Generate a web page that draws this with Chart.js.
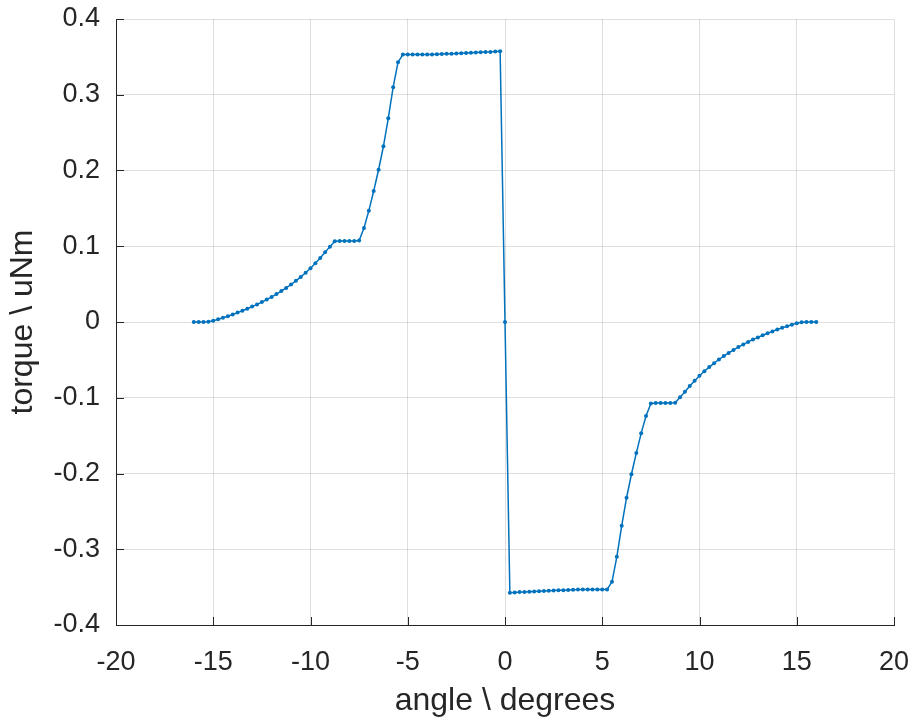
<!DOCTYPE html>
<html>
<head>
<meta charset="utf-8">
<script src="https://cdn.jsdelivr.net/npm/chart.js@4/dist/chart.umd.min.js"></script>
<style>
    html, body { margin: 0; padding: 0; background: #ffffff; }
    .chart-wrap { position: relative; width: 917px; height: 720px; }
</style>
</head>
<body>
<div class="chart-wrap">
    <canvas id="torque-chart" width="917" height="720"></canvas>
</div>
<script>
'use strict';

// sampled angles (degrees)

const angles = [
    -16, -15.75, -15.5, -15.25, -15, -14.75, -14.5, -14.25, -14, -13.75, -13.5, -13.25, -13,
    -12.75, -12.5, -12.25, -12, -11.75, -11.5, -11.25, -11, -10.75, -10.5, -10.25, -10,
    -9.75, -9.5, -9.25, -9, -8.75, -8.5, -8.25, -8, -7.75, -7.5, -7.25, -7, -6.75, -6.5,
    -6.25, -6, -5.75, -5.5, -5.25, -5, -4.75, -4.5, -4.25, -4, -3.75, -3.5, -3.25, -3,
    -2.75, -2.5, -2.25, -2, -1.75, -1.5, -1.25, -1, -0.75, -0.5, -0.25,
    0,
    0.25, 0.5, 0.75, 1, 1.25, 1.5, 1.75, 2, 2.25, 2.5, 2.75, 3, 3.25, 3.5, 3.75, 4, 4.25,
    4.5, 4.75, 5, 5.25, 5.5, 5.75, 6, 6.25, 6.5, 6.75, 7, 7.25, 7.5, 7.75, 8, 8.25, 8.5,
    8.75, 9, 9.25, 9.5, 9.75, 10, 10.25, 10.5, 10.75, 11, 11.25, 11.5, 11.75, 12, 12.25,
    12.5, 12.75, 13, 13.25, 13.5, 13.75, 14, 14.25, 14.5, 14.75, 15, 15.25, 15.5, 15.75, 16
]

// torque (uNm)

const torque = [
    0, 0, 0, 0.0003, 0.0017, 0.0035, 0.0055, 0.0077, 0.0100, 0.0124, 0.0149, 0.0175, 0.0203,
    0.0232, 0.0263, 0.0296, 0.0331, 0.0368, 0.0408, 0.0450, 0.0495, 0.0543, 0.0595, 0.0650, 0.0710,
    0.0775, 0.0845, 0.0920, 0.0995, 0.1065,
    0.1070, 0.1070, 0.1070, 0.1070, 0.1075,
    0.1240, 0.1470, 0.1730, 0.2010, 0.2320, 0.2690, 0.3100, 0.3430, 0.3530,
    0.3530, 0.3530, 0.3530, 0.3531, 0.3532, 0.3533, 0.3535, 0.3537, 0.3540, 0.3542,
    0.3545, 0.3548, 0.3551, 0.3554, 0.3557, 0.3560, 0.3563, 0.3566, 0.3570, 0.3575,
    0,
    -0.3575, -0.3570, -0.3566, -0.3563, -0.3560, -0.3557, -0.3554, -0.3551, -0.3548, -0.3545,
    -0.3542, -0.3540, -0.3537, -0.3535, -0.3533, -0.3532, -0.3531, -0.3530, -0.3530, -0.3530,
    -0.3530, -0.3430, -0.3100, -0.2690, -0.2320, -0.2010, -0.1730, -0.1470, -0.1240,
    -0.1075, -0.1070, -0.1070, -0.1070, -0.1070,
    -0.1065, -0.0995, -0.0920, -0.0845, -0.0775,
    -0.0710, -0.0650, -0.0595, -0.0543, -0.0495, -0.0450, -0.0408, -0.0368, -0.0331, -0.0296,
    -0.0263, -0.0232, -0.0203, -0.0175, -0.0149, -0.0124, -0.0100, -0.0077, -0.0055, -0.0035,
    -0.0017, -0.0003, 0, 0, 0
]

// axis ticks

const xTicks = [-20, -15, -10, -5, 0, 5, 10, 15, 20]
const yTicks = [-0.4, -0.3, -0.2, -0.1, 0, 0.1, 0.2, 0.3, 0.4]

const xLabel = 'angle \\ degrees'
const yLabel = 'torque \\ uNm'

const lineColor = '#0072bd'
const axisColor = '#262626'
const gridColor = 'rgba(38, 38, 38, 0.15)'
const fontFamily = '"Liberation Sans", Arial, Helvetica, sans-serif'

const chartCanvas = document.getElementById('torque-chart')

// build x/y pairs for the linear scales

const points = angles.map((angle, i) => ({ x: angle, y: torque[i] }))

// matlab style inward tick marks on the left and bottom axes

const inwardTicks = {
    id: 'inwardTicks',
    afterDatasetsDraw(chart) {
        const { ctx, chartArea, scales } = chart
        const tickLength = 8

        ctx.save()
        ctx.strokeStyle = axisColor
        ctx.lineWidth = 1
        ctx.beginPath()

        xTicks.forEach(value => {
            const px = Math.round(scales.x.getPixelForValue(value)) + 0.5
            ctx.moveTo(px, chartArea.bottom)
            ctx.lineTo(px, chartArea.bottom - tickLength)
        })

        yTicks.forEach(value => {
            const py = Math.round(scales.y.getPixelForValue(value)) + 0.5
            ctx.moveTo(chartArea.left, py)
            ctx.lineTo(chartArea.left + tickLength, py)
        })

        ctx.stroke()
        ctx.restore()
    }
}

const torqueChart = new Chart(chartCanvas, {
    type: 'line',
    data: {
        datasets: [{
            label: 'torque',
            data: points,
            borderColor: lineColor,
            backgroundColor: lineColor,
            borderWidth: 1.5,
            pointRadius: 2,
            pointBorderWidth: 0,
            pointBackgroundColor: lineColor,
            tension: 0
        }]
    },
    options: {
        responsive: false,
        animation: false,
        layout: {
            padding: { top: 19, right: 23, bottom: 0, left: 0 }
        },
        plugins: {
            legend: { display: false },
            tooltip: { enabled: false }
        },
        scales: {
            x: {
                type: 'linear',
                min: -20,
                max: 20,
                afterBuildTicks: scale => {
                    scale.ticks = xTicks.map(value => ({ value }))
                },
                afterFit: scale => {
                    // keep the tick labels from pushing the plot edges in
                    scale.height = 95
                    scale.paddingLeft = 0
                    scale.paddingRight = 0
                },
                grid: {
                    color: gridColor,
                    tickLength: 0
                },
                border: { color: axisColor, width: 1 },
                ticks: {
                    color: axisColor,
                    padding: 21,
                    maxRotation: 0,
                    font: { family: fontFamily, size: 27 }
                },
                title: {
                    display: true,
                    text: xLabel,
                    color: axisColor,
                    padding: { top: 0, bottom: 0 },
                    font: { family: fontFamily, size: 32 }
                }
            },
            y: {
                type: 'linear',
                min: -0.4,
                max: 0.4,
                afterBuildTicks: scale => {
                    scale.ticks = yTicks.map(value => ({ value }))
                },
                afterFit: scale => {
                    scale.width = 116
                    scale.paddingTop = 0
                    scale.paddingBottom = 0
                },
                grid: {
                    color: gridColor,
                    tickLength: 0
                },
                border: { color: axisColor, width: 1 },
                ticks: {
                    color: axisColor,
                    padding: 16,
                    font: { family: fontFamily, size: 27 },
                    callback: value => value === 0 ? '0' : value.toFixed(1)
                },
                title: {
                    display: true,
                    text: yLabel,
                    color: axisColor,
                    padding: { top: 4, bottom: 0 },
                    font: { family: fontFamily, size: 32 }
                }
            }
        }
    },
    plugins: [inwardTicks]
})
</script>
</body>
</html>
